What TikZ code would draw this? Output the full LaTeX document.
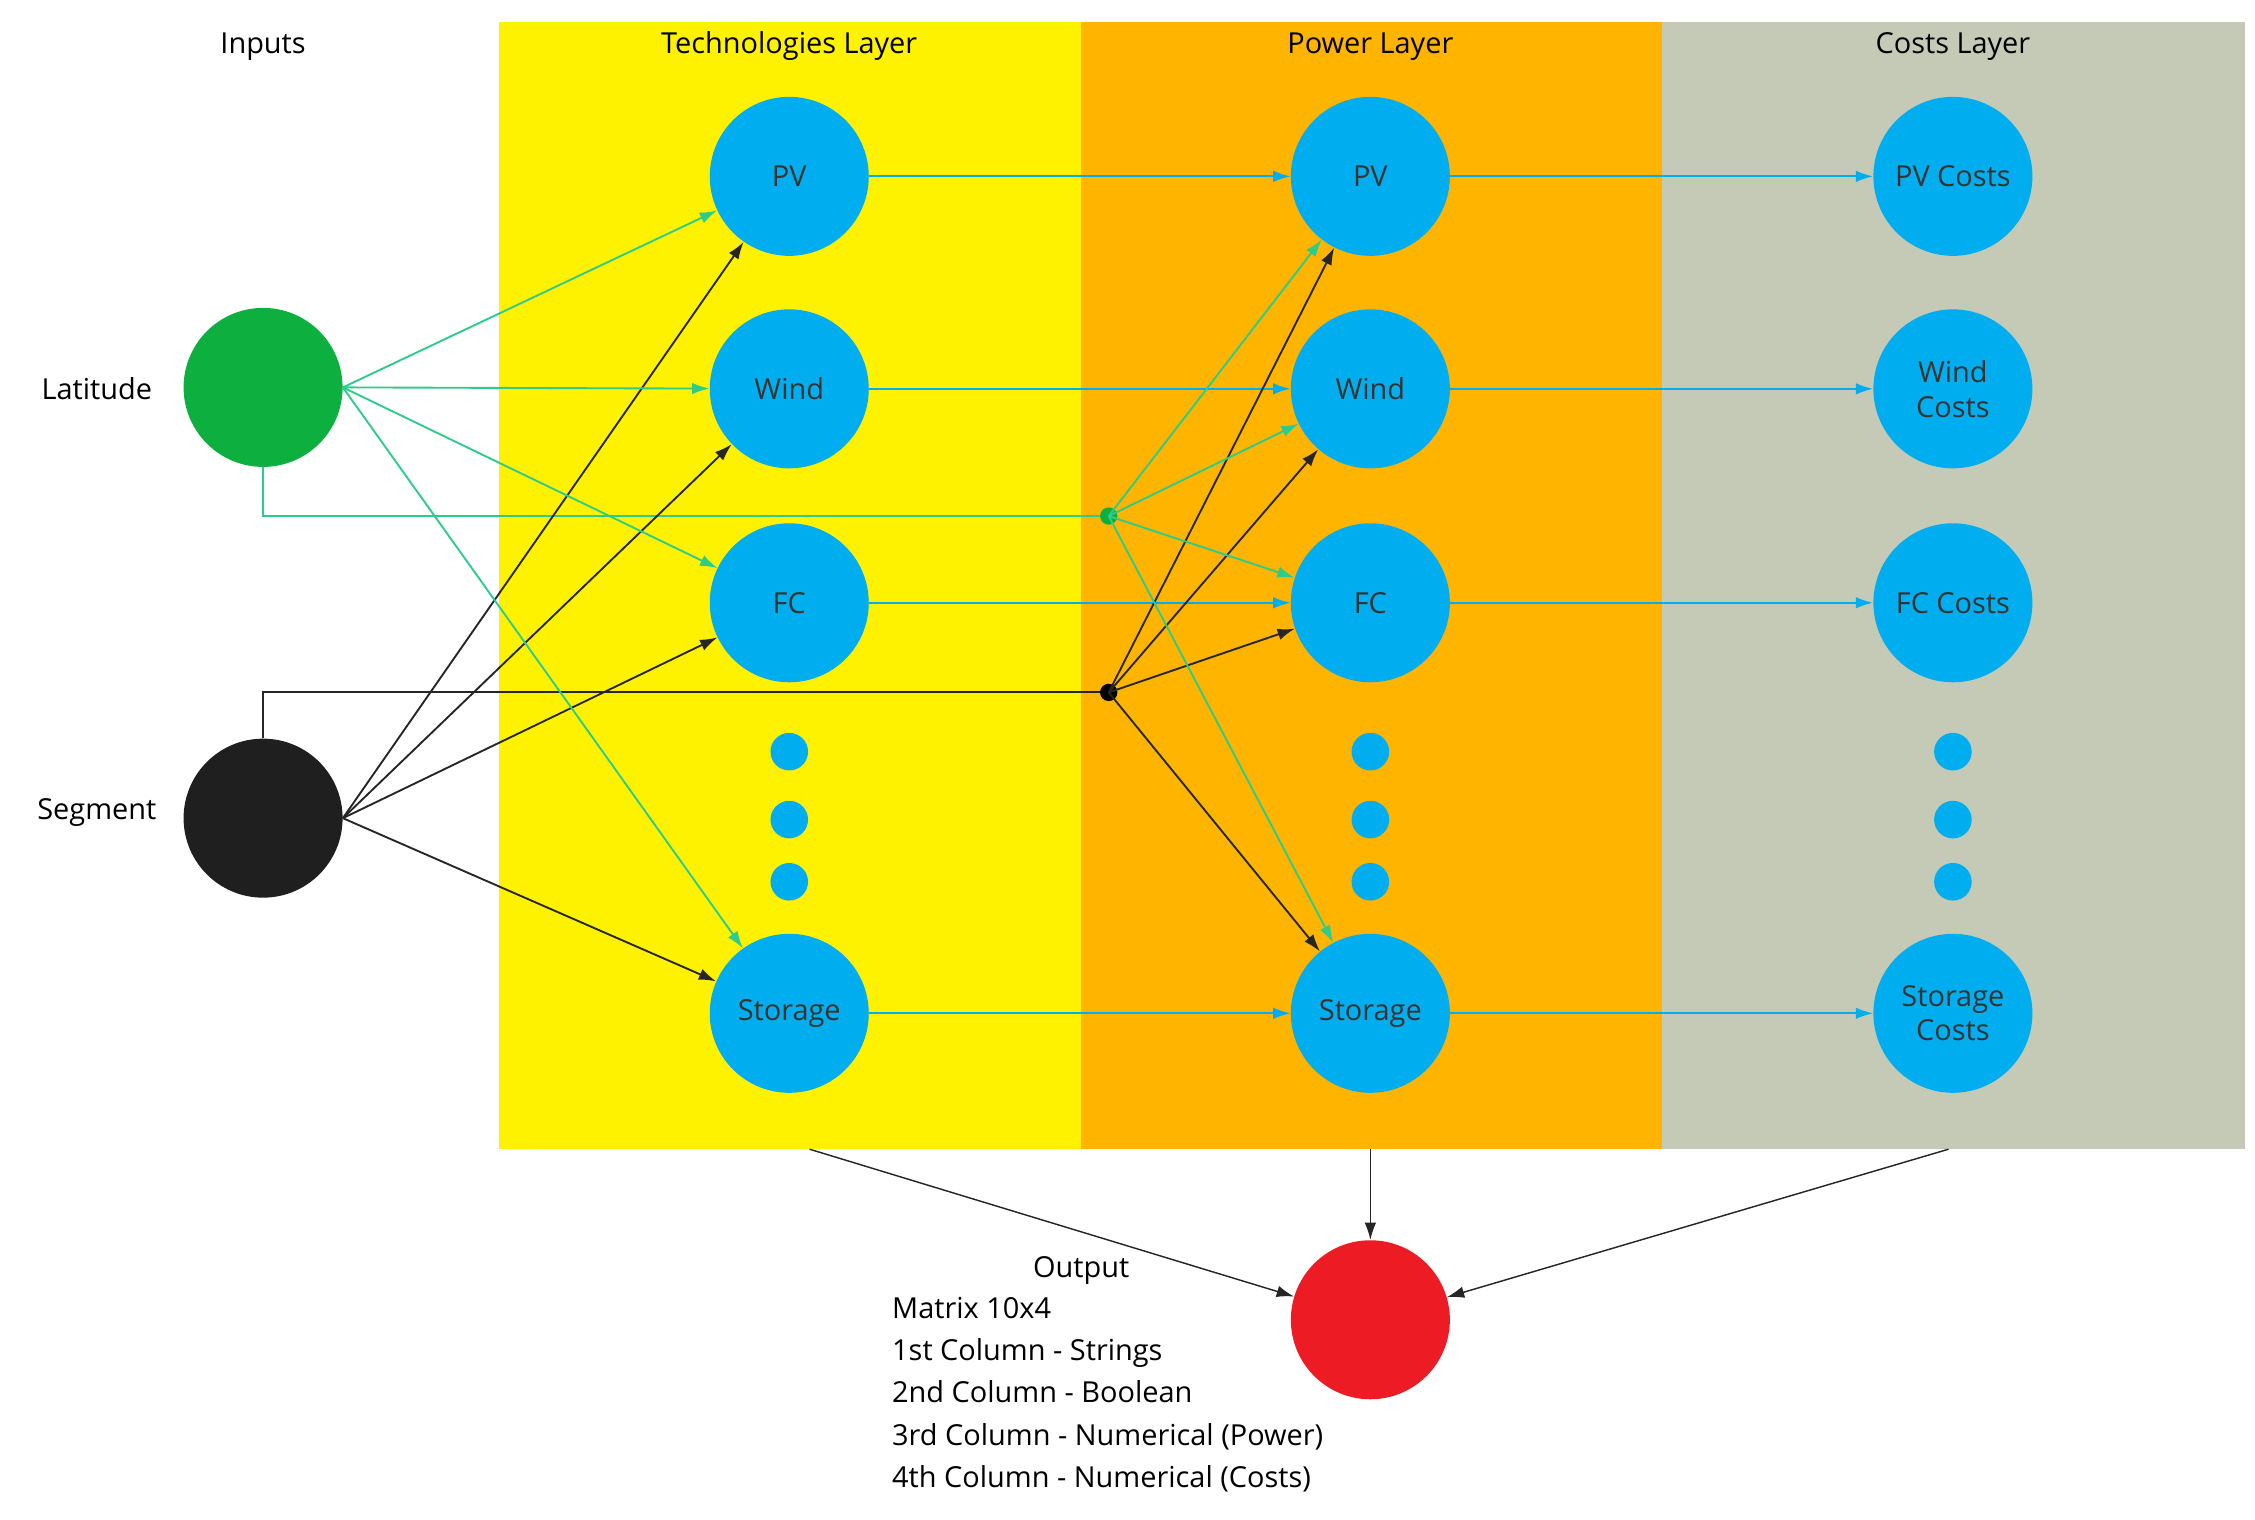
\documentclass[tikz,border=0pt]{standalone}
\usepackage{fontspec}
\setmainfont{Open Sans}
\usetikzlibrary{arrows.meta}
\definecolor{yel}{HTML}{FFF200}
\definecolor{ora}{HTML}{FFB400}
\definecolor{gry}{HTML}{C4CAB6}
\definecolor{blu}{HTML}{00AEEF}
\definecolor{grn}{HTML}{0DB03F}
\definecolor{gln}{HTML}{2DCC8A}
\definecolor{rd}{HTML}{ED1C24}
\begin{document}
\begin{tikzpicture}[x=1pt,y=-1pt,font=\fontsize{20}{24}\selectfont,
 nd/.style={circle,fill=blu,minimum size=110pt,inner sep=0pt,align=center,text=black!80},
 dt/.style={circle,fill=blu,minimum size=26pt,inner sep=0pt},
 ga/.style={draw=gln,line width=1.3pt,-{Latex[length=12pt,width=8pt]}},
 ba/.style={draw=black!85,line width=1.3pt,-{Latex[length=12pt,width=8pt]}},
 bl/.style={draw=blu,line width=1.3pt,-{Latex[length=12pt,width=8pt]}}]
\useasboundingbox (0,0) rectangle (1560,1051);
\fill[yel] (345,15) rectangle (748,795);
\fill[ora] (748,15) rectangle (1150,795);
\fill[gry] (1150,15) rectangle (1553,795);
\node at (182,32) {Inputs};
\node at (546,32) {Technologies Layer};
\node at (948,32) {Power Layer};
\node at (1351,32) {Costs Layer};
\node at (67,269) {Latitude};
\node at (67,562) {Segment};
\node[circle,fill=grn,minimum size=110pt] (lat) at (182,268) {};
\node[circle,fill=black!88,minimum size=110pt] (seg) at (182,566) {};
\foreach \n/\t/\c/\y in {pv/PV/PV Costs/122, wi/Wind/Wind\\Costs/269, fc/FC/FC Costs/417, st/Storage/Storage\\Costs/701}{
 \node[nd] (t\n) at (546,\y) {\t};
 \node[nd] (p\n) at (948,\y) {\t};
 \node[nd] (c\n) at (1351,\y) {\c};
 \draw[bl] (t\n) -- (p\n);
 \draw[bl] (p\n) -- (c\n);
}
\foreach \x/\k in {546/a,948/b,1351/c}{
 \node[dt] (d1\k) at (\x,520) {};
 \node[dt] (d2\k) at (\x,567) {};
 \node[dt] (d3\k) at (\x,610) {};
}
\coordinate (gj) at (767,357);
\coordinate (bj) at (767,479);
\draw[gln,line width=1.3pt] (lat.south) |- (gj);
\draw[black!85,line width=1.3pt] (seg.north) |- (bj);
\fill[grn] (gj) circle (6pt);
\fill[black] (bj) circle (6pt);
\foreach \n in {pv,wi,fc,st}{
 \draw[ga] (lat.east) -- (t\n);
 \draw[ba] (seg.east) -- (t\n);
 \draw[ga] (gj) -- (p\n);
 \draw[ba] (bj) -- (p\n);
}
\node[circle,fill=rd,minimum size=110pt] (out) at (948,913) {};
\coordinate (o1) at (560,795);
\coordinate (o2) at (948,795);
\coordinate (o3) at (1348,795);
\draw[ba,line width=1pt] (o1) -- (out);
\draw[ba,line width=1pt] (o2) -- (out);
\draw[ba,line width=1pt] (o3) -- (out);
\node at (748,879) {Output};
\node[anchor=north west,align=left,inner sep=0pt,font=\fontsize{20}{29.3}\selectfont] at (617,897) {Matrix 10x4\\1st Column - Strings\\2nd Column - Boolean\\3rd Column - Numerical (Power)\\4th Column - Numerical (Costs)};
\end{tikzpicture}
\end{document}
